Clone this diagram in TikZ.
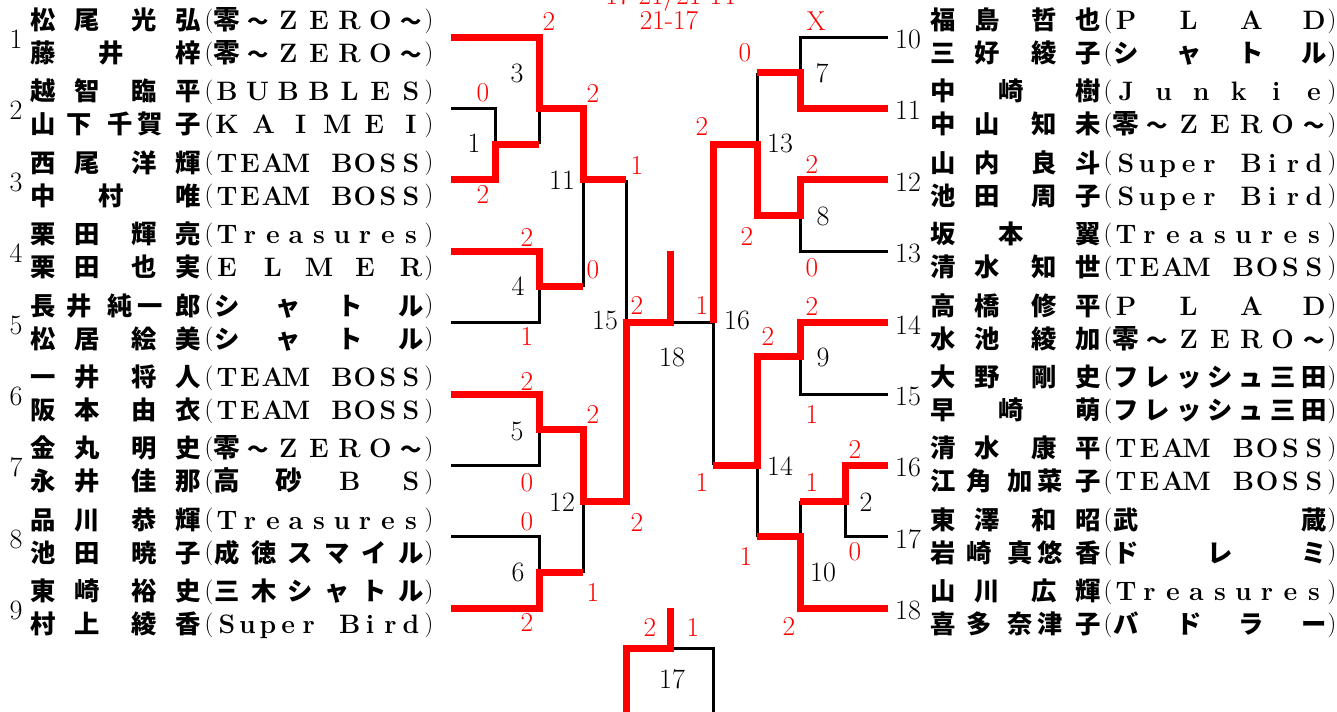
\documentclass[tikz,border=0pt]{standalone}
\usepackage{fontspec}
\newfontfamily\jpf{Noto Sans CJK JP}
\newcounter{tn}
\newcommand\wv{{\jpf\fontsize{16}{16}\selectfont ～}}
\tikzset{
  jpn/.style={anchor=base, inner sep=0pt, font=\jpf\bfseries\fontsize{19}{19}\selectfont},
  lat/.style={anchor=base, inner sep=0pt, font=\bfseries\fontsize{20}{20}\selectfont},
  paren/.style={anchor=base, inner sep=0pt, font=\fontsize{18.5}{18.5}\selectfont},
  num/.style={anchor=base, inner sep=0pt, font=\fontsize{21}{21}\selectfont},
  scr/.style={anchor=base, inner sep=0pt, text=red, font=\fontsize{20.5}{20.5}\selectfont},
  bk/.style={draw=black, line width=2.25pt, line join=miter},
  rd/.style={draw=red, line width=5.25pt, line join=miter},
}
% name characters: #1 x of first char, #2 row centre, #3 offset, #4 char
\newcommand\nch[4]{\stepcounter{tn}\node[jpn] (t\arabic{tn}) at ({#1+#3},{#2+9}) {#4};}
\newcommand\nmthree[5]{\nch{#1}{#2}{0}{#3}\nch{#1}{#2}{68}{#4}\nch{#1}{#2}{145}{#5}}
\newcommand\nmfour[6]{\nch{#1}{#2}{0}{#3}\nch{#1}{#2}{44}{#4}\nch{#1}{#2}{101}{#5}\nch{#1}{#2}{145}{#6}}
\newcommand\nmfive[7]{\nch{#1}{#2}{0}{#3}\nch{#1}{#2}{36}{#4}\nch{#1}{#2}{77}{#5}\nch{#1}{#2}{107}{#6}\nch{#1}{#2}{145}{#7}}
% team: #1 "(" x, #2 first x, #3 last x, #4 ")" x, #5 row centre, #6 count, #7 style, #8 list
\newcommand\tmrow[8]{%
  \stepcounter{tn}\node[paren] (t\arabic{tn}) at (#1,{#5+6.5}) {(};
  \foreach \c [count=\i] in {#8}{\stepcounter{tn}\node[#7] (t\arabic{tn}) at ({#2+(\i-1)*(#3-#2)/(#6-1)},{#5+9}) {\c};}
  \stepcounter{tn}\node[paren] (t\arabic{tn}) at (#4,{#5+6.5}) {)};
}
\newcommand\tmL[4]{\tmrow{209}{227}{411}{429}{#1}{#2}{#3}{#4}}
\newcommand\tmR[4]{\tmrow{1108}{1126}{1314}{1332}{#1}{#2}{#3}{#4}}
% label: #1 style, #2 x, #3 centre y, #4 text
\newcommand\lab[4]{\stepcounter{tn}\node[#1] (t\arabic{tn}) at (#2,{#3+8.5}) {#4};}
\begin{document}
\begin{tikzpicture}[x=0.75pt,y=-0.75pt]
\useasboundingbox[fill=white] (0,0) rectangle (1337,711);

% ---------- entry line ends ----------
\coordinate (l1) at (451,37);    \coordinate (l2) at (451,108.4); \coordinate (l3) at (451,179.8);
\coordinate (l4) at (451,251.2); \coordinate (l5) at (451,322.6); \coordinate (l6) at (451,394);
\coordinate (l7) at (451,465.4); \coordinate (l8) at (451,536.8); \coordinate (l9) at (451,608.2);
\coordinate (r10) at (888,37);    \coordinate (r11) at (888,108.4); \coordinate (r12) at (888,179.8);
\coordinate (r13) at (888,251.2); \coordinate (r14) at (888,322.6); \coordinate (r15) at (888,394);
\coordinate (r16) at (888,465.4); \coordinate (r17) at (888,536.8); \coordinate (r18) at (888,608.2);
% ---------- match points ----------
\coordinate (m1) at (495,144.1);
\coordinate (m3) at (539,108.4);
\coordinate (m4) at (539,286.9);
\coordinate (m11) at (583,179.8);
\coordinate (m5) at (539,429.7);
\coordinate (m6) at (539,572.5);
\coordinate (m12) at (583,501.1);
\coordinate (m15) at (626,322.6);
\coordinate (m18) at (670,322.6);
\coordinate (w18) at (670,251.2);
\coordinate (m16) at (713,322.6);
\coordinate (m7) at (800,72.7);
\coordinate (m8) at (800,215.5);
\coordinate (m13) at (757,144.1);
\coordinate (m9) at (800,356);
\coordinate (m14) at (757,465.4);
\coordinate (m2) at (845,501.1);
\coordinate (m10) at (800,536.8);
\coordinate (m17) at (670,648);
\coordinate (w17) at (670,608.2);
\coordinate (b17l) at (626,716);
\coordinate (b17r) at (713,716);

% ---------- black lines ----------
\draw[bk] (l2) -| (m1);
\draw[bk] (m3) -- (m3 |- m1);
\draw[bk] (l5) -| (m4);
\draw[bk] (m11) -- (m11 |- m4);
\draw[bk] (m15 |- m11) -- (m15);
\draw[bk] (l7) -| (m5);
\draw[bk] (l8) -| (m6);
\draw[bk] (m12) -- (m12 |- m6);
\draw[bk] (m18) -- (m16) -- (m16 |- m14);
\draw[bk] (r10) -| (m7);
\draw[bk] (m13) -- (m13 |- m7);
\draw[bk] (r13) -| (m8);
\draw[bk] (r15) -| (m9);
\draw[bk] (m14) -- (m14 |- m10);
\draw[bk] (r17) -| (m2);
\draw[bk] (m10 |- m2) -- (m10);
\draw[bk] (m17) -| (b17r);

% ---------- red lines ----------
\draw[rd] (l3) -| (m1) -- (m1 -| m3);
\draw[rd] (l1) -| (m3) -- (m3 -| m11) -- (m11) -- (m11 -| m15);
\draw[rd] (l4) -| (m4) -- (m4 -| m11);
\draw[rd] (l6) -| (m5) -- (m5 -| m12) -- (m12) -- (m12 -| m15) -- (m15) -- (m18) -- (w18);
\draw[rd] (l9) -| (m6) -- (m6 -| m12);
\draw[rd] (b17l) |- (m17) -- (w17);
\draw[rd] (r11) -| (m7) -- (m7 -| m13);
\draw[rd] (r12) -| (m8) -- (m8 -| m13) -- (m13) -- (m13 -| m16) -- (m16);
\draw[rd] (r14) -| (m9) -- (m9 -| m14) -- (m14) -- (m14 -| m16);
\draw[rd] (r16) -| (m2) -- (m2 -| m10);
\draw[rd] (r18) -| (m10) -- (m10 -| m14);

% ---------- match numbers ----------
\lab{num}{517}{74}{3}
\lab{num}{474}{144}{1}
\lab{num}{562}{181}{11}
\lab{num}{518}{287}{4}
\lab{num}{605}{321}{15}
\lab{num}{672}{358}{18}
\lab{num}{517}{432}{5}
\lab{num}{562}{503}{12}
\lab{num}{518}{573}{6}
\lab{num}{672}{680}{17}
\lab{num}{822}{74}{7}
\lab{num}{780}{144}{13}
\lab{num}{823}{217}{8}
\lab{num}{737}{321}{16}
\lab{num}{823}{358}{9}
\lab{num}{780}{467}{14}
\lab{num}{866}{503}{2}
\lab{num}{823}{573}{10}

% ---------- scores ----------
\lab{scr}{670}{-4}{17-21/21-14}
\lab{scr}{669}{21}{21-17}
\lab{scr}{549}{22}{2}
\lab{scr}{483}{93}{0}
\lab{scr}{593}{94}{2}
\lab{scr}{483}{195}{2}
\lab{scr}{637}{166}{1}
\lab{scr}{527}{238}{2}
\lab{scr}{593}{270}{0}
\lab{scr}{527}{337}{1}
\lab{scr}{637}{306}{2}
\lab{scr}{702}{306}{1}
\lab{scr}{527}{382}{2}
\lab{scr}{593}{415}{2}
\lab{scr}{527}{483}{0}
\lab{scr}{527}{522}{0}
\lab{scr}{637}{523}{2}
\lab{scr}{593}{593}{1}
\lab{scr}{527}{623}{2}
\lab{scr}{650}{628}{2}
\lab{scr}{693}{628}{1}
\lab{scr}{816}{22}{X}
\lab{scr}{745}{53}{0}
\lab{scr}{702}{127}{2}
\lab{scr}{812}{165}{2}
\lab{scr}{747}{237}{2}
\lab{scr}{812}{268}{0}
\lab{scr}{812}{307}{2}
\lab{scr}{768}{337}{2}
\lab{scr}{812}{415}{1}
\lab{scr}{702}{483}{1}
\lab{scr}{855}{450}{2}
\lab{scr}{812}{483}{1}
\lab{scr}{855}{552}{0}
\lab{scr}{746}{557}{1}
\lab{scr}{789}{627}{2}

% ---------- entry numbers ----------
\lab{num}{16}{40}{1}  \lab{num}{16}{111.4}{2} \lab{num}{16}{182.8}{3}
\lab{num}{16}{254.2}{4} \lab{num}{16}{325.6}{5} \lab{num}{16}{397}{6}
\lab{num}{16}{468.4}{7} \lab{num}{16}{539.8}{8} \lab{num}{16}{611.2}{9}
\lab{num}{908}{40}{10}  \lab{num}{908}{111.4}{11} \lab{num}{908}{182.8}{12}
\lab{num}{908}{254.2}{13} \lab{num}{908}{325.6}{14} \lab{num}{908}{397}{15}
\lab{num}{908}{468.4}{16} \lab{num}{908}{539.8}{17} \lab{num}{908}{611.2}{18}

% ---------- left players ----------
\nmfour{43.5}{20.5}{松}{尾}{光}{弘}
\tmL{20.5}{7}{lat}{{\jpf 零},\wv,Z,E,R,O,\wv}
\nmthree{43.5}{53.5}{藤}{井}{梓}
\tmL{53.5}{7}{lat}{{\jpf 零},\wv,Z,E,R,O,\wv}

\nmfour{43.5}{91.9}{越}{智}{臨}{平}
\tmL{91.9}{7}{lat}{B,U,B,B,L,E,S}
\nmfive{43.5}{124.9}{山}{下}{千}{賀}{子}
\tmL{124.9}{6}{lat}{K,A,I,M,E,I}

\nmfour{43.5}{163.3}{西}{尾}{洋}{輝}
\tmL{163.3}{9}{lat}{T,E,A,M,{},B,O,S,S}
\nmthree{43.5}{196.3}{中}{村}{唯}
\tmL{196.3}{9}{lat}{T,E,A,M,{},B,O,S,S}

\nmfour{43.5}{234.7}{栗}{田}{輝}{亮}
\tmL{234.7}{9}{lat}{T,r,e,a,s,u,r,e,s}
\nmfour{43.5}{267.7}{栗}{田}{也}{実}
\tmL{267.7}{5}{lat}{E,L,M,E,R}

\nmfive{43.5}{306.1}{長}{井}{純}{一}{郎}
\tmL{306.1}{4}{jpn}{シ,ャ,ト,ル}
\nmfour{43.5}{339.1}{松}{居}{絵}{美}
\tmL{339.1}{4}{jpn}{シ,ャ,ト,ル}

\nmfour{43.5}{377.5}{一}{井}{将}{人}
\tmL{377.5}{9}{lat}{T,E,A,M,{},B,O,S,S}
\nmfour{43.5}{410.5}{阪}{本}{由}{衣}
\tmL{410.5}{9}{lat}{T,E,A,M,{},B,O,S,S}

\nmfour{43.5}{448.9}{金}{丸}{明}{史}
\tmL{448.9}{7}{lat}{{\jpf 零},\wv,Z,E,R,O,\wv}
\nmfour{43.5}{481.9}{永}{井}{佳}{那}
\tmL{481.9}{4}{lat}{{\jpf 高},{\jpf 砂},B,S}

\nmfour{43.5}{520.3}{品}{川}{恭}{輝}
\tmL{520.3}{9}{lat}{T,r,e,a,s,u,r,e,s}
\nmfour{43.5}{553.3}{池}{田}{暁}{子}
\tmL{553.3}{6}{jpn}{成,徳,ス,マ,イ,ル}

\nmfour{43.5}{591.7}{東}{崎}{裕}{史}
\tmL{591.7}{6}{jpn}{三,木,シ,ャ,ト,ル}
\nmfour{43.5}{624.7}{村}{上}{綾}{香}
\tmL{624.7}{10}{lat}{S,u,p,e,r,{},B,i,r,d}

% ---------- right players ----------
\nmfour{943.5}{20.5}{福}{島}{哲}{也}
\tmR{20.5}{4}{lat}{P,L,A,D}
\nmfour{943.5}{53.5}{三}{好}{綾}{子}
\tmR{53.5}{4}{jpn}{シ,ャ,ト,ル}

\nmthree{943.5}{91.9}{中}{崎}{樹}
\tmR{91.9}{6}{lat}{J,u,n,k,i,e}
\nmfour{943.5}{124.9}{中}{山}{知}{未}
\tmR{124.9}{7}{lat}{{\jpf 零},\wv,Z,E,R,O,\wv}

\nmfour{943.5}{163.3}{山}{内}{良}{斗}
\tmR{163.3}{10}{lat}{S,u,p,e,r,{},B,i,r,d}
\nmfour{943.5}{196.3}{池}{田}{周}{子}
\tmR{196.3}{10}{lat}{S,u,p,e,r,{},B,i,r,d}

\nmthree{943.5}{234.7}{坂}{本}{翼}
\tmR{234.7}{9}{lat}{T,r,e,a,s,u,r,e,s}
\nmfour{943.5}{267.7}{清}{水}{知}{世}
\tmR{267.7}{9}{lat}{T,E,A,M,{},B,O,S,S}

\nmfour{943.5}{306.1}{高}{橋}{修}{平}
\tmR{306.1}{4}{lat}{P,L,A,D}
\nmfour{943.5}{339.1}{水}{池}{綾}{加}
\tmR{339.1}{7}{lat}{{\jpf 零},\wv,Z,E,R,O,\wv}

\nmfour{943.5}{377.5}{大}{野}{剛}{史}
\tmR{377.5}{7}{jpn}{フ,レ,ッ,シ,ュ,三,田}
\nmthree{943.5}{410.5}{早}{崎}{萌}
\tmR{410.5}{7}{jpn}{フ,レ,ッ,シ,ュ,三,田}

\nmfour{943.5}{448.9}{清}{水}{康}{平}
\tmR{448.9}{9}{lat}{T,E,A,M,{},B,O,S,S}
\nmfive{943.5}{481.9}{江}{角}{加}{菜}{子}
\tmR{481.9}{9}{lat}{T,E,A,M,{},B,O,S,S}

\nmfour{943.5}{520.3}{東}{澤}{和}{昭}
\tmR{520.3}{2}{jpn}{武,蔵}
\nmfive{943.5}{553.3}{岩}{崎}{真}{悠}{香}
\tmR{553.3}{3}{jpn}{ド,レ,ミ}

\nmfour{943.5}{591.7}{山}{川}{広}{輝}
\tmR{591.7}{9}{lat}{T,r,e,a,s,u,r,e,s}
\nmfive{943.5}{624.7}{喜}{多}{奈}{津}{子}
\tmR{624.7}{4}{jpn}{バ,ド,ラ,ー}
\end{tikzpicture}
\end{document}
